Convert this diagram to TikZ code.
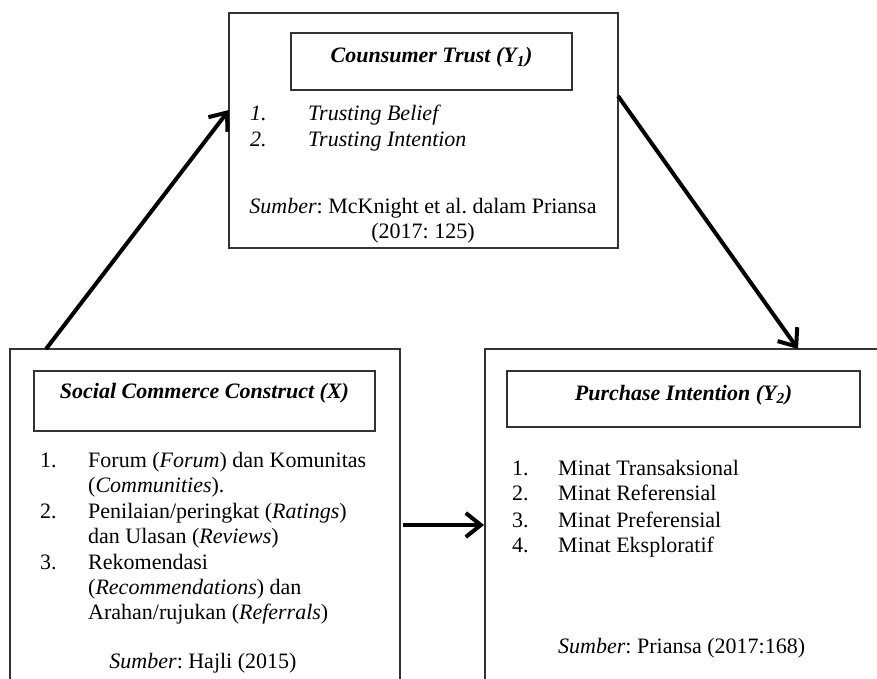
\documentclass[tikz,border=0pt]{standalone}
\usepackage{fontspec}
\setmainfont{Liberation Serif}
\usetikzlibrary{arrows.meta,calc}
\frenchspacing
\begin{document}
\begin{tikzpicture}[x=1pt,y=-1pt,
  frame/.style={draw=black!80, line width=1.3pt, rectangle, inner sep=0pt, outer sep=0pt, anchor=north west},
  txt/.style={anchor=base west, inner sep=0pt, font=\fontsize{22}{26}\selectfont\frenchspacing},
  ctxt/.style={anchor=base, inner sep=0pt, font=\fontsize{22}{26}\selectfont\frenchspacing},
  ttl/.style={anchor=base, inner sep=0pt, font=\fontsize{22}{26}\selectfont\bfseries\itshape},
  arr/.style={-{Straight Barb[length=15pt,width=24pt]}, line width=4pt, black}
]
\useasboundingbox (0,0) rectangle (877,679);
\clip (0,0) rectangle (877,679);

% Consumer Trust box
\node[frame, minimum width=389pt, minimum height=235pt] (T) at (229,13) {};
\node[frame, minimum width=281pt, minimum height=57pt] (Tt) at (291,33) {};
\node[ttl] (Tl) at (431.5,63) {Counsumer Trust (Y\textsubscript{1})};
\node[txt] (T1n) at (250,121) {\itshape 1.};
\node[txt] (T1) at (308,121) {\itshape Trusting Belief};
\node[txt] (T2n) at (250,147) {\itshape 2.};
\node[txt] (T2) at (308,147) {\itshape Trusting Intention};
\node[ctxt] (Ts1) at (423,213) {\textit{Sumber}: McKnight et al. dalam Priansa};
\node[ctxt] (Ts2) at (423,238) {(2017: 125)};

% Social Commerce Construct box
\node[frame, minimum width=390pt, minimum height=360pt] (X) at (10,349) {};
\node[frame, minimum width=341pt, minimum height=60pt] (Xt) at (34,371) {};
\node[ttl] (Xl) at (204.5,398) {Social Commerce Construct (X)};
\node[txt] (X1n) at (40,467) {1.};
\node[txt] (X1a) at (88,467) {Forum (\textit{Forum}) dan Komunitas};
\node[txt] (X1b) at (88,492) {(\textit{Communities}).};
\node[txt] (X2n) at (40,518) {2.};
\node[txt] (X2a) at (88,518) {Penilaian/peringkat (\textit{Ratings})};
\node[txt] (X2b) at (88,543) {dan Ulasan (\textit{Reviews})};
\node[txt] (X3n) at (40,569) {3.};
\node[txt] (X3a) at (88,569) {Rekomendasi};
\node[txt] (X3b) at (88,594) {(\textit{Recommendations}) dan};
\node[txt] (X3c) at (88,619) {Arahan/rujukan (\textit{Referrals})};
\node[ctxt] (Xs) at (203,668) {\textit{Sumber}: Hajli (2015)};

% Purchase Intention box
\node[frame, minimum width=420pt, minimum height=360pt] (Y) at (485,349) {};
\node[frame, minimum width=353pt, minimum height=56pt] (Yt) at (507,371) {};
\node[ttl] (Yl) at (683.5,400) {Purchase Intention (Y\textsubscript{2})};
\node[txt] (Y1n) at (512,475) {1.};
\node[txt] (Y1) at (558,475) {Minat Transaksional};
\node[txt] (Y2n) at (512,500) {2.};
\node[txt] (Y2) at (558,500) {Minat Referensial};
\node[txt] (Y3n) at (512,527) {3.};
\node[txt] (Y3) at (558,527) {Minat Preferensial};
\node[txt] (Y4n) at (512,552) {4.};
\node[txt] (Y4) at (558,552) {Minat Eksploratif};
\node[txt] (Ys) at (558,653) {\textit{Sumber}: Priansa (2017:168)};

% connectors
\coordinate (a1s) at ($(X.north west)+(36,0)$);
\coordinate (a1e) at ($(T.north west)+(0,97)$);
\coordinate (a2s) at ($(T.north east)+(0,83)$);
\coordinate (a2e) at ($(Y.north west)+(313,0)$);
\coordinate (a3s) at ($(X.north east)+(3,176)$);
\coordinate (a3e) at ($(Y.north west)+(-1,176)$);
\draw[arr] (a1s) -- (a1e);
\draw[arr] (a2s) -- (a2e);
\draw[arr] (a3s) -- (a3e);
\end{tikzpicture}
\end{document}
